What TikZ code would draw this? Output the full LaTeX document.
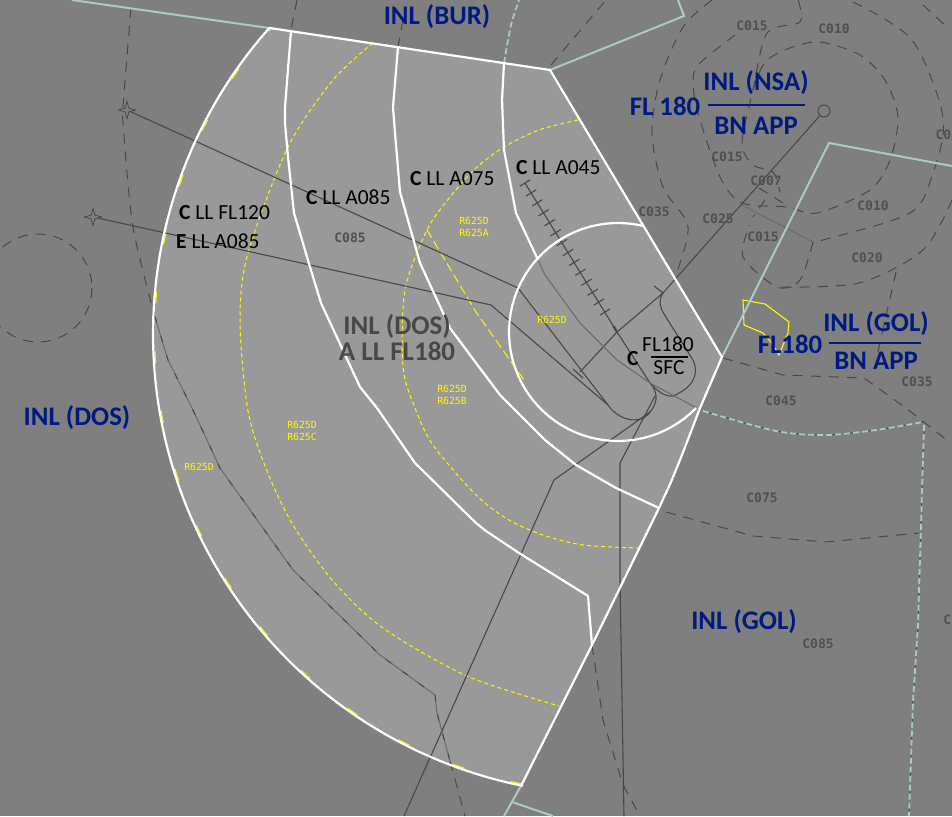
\documentclass[tikz,border=0pt]{standalone}
\usepackage{fontspec}
\setmainfont{Carlito}
\newfontfamily\chartfont{DejaVu Sans Mono}
\usetikzlibrary{calc,shapes.geometric}

\definecolor{chartbg}{HTML}{7F7F7F}
\definecolor{fanfill}{HTML}{999999}
\definecolor{sectorblue}{HTML}{001A80}
\definecolor{seamgray}{HTML}{484848}
\definecolor{seamdim}{HTML}{6C6C6C}
\definecolor{bordertint}{HTML}{ADC8C8}
\definecolor{chartyellow}{HTML}{FFFA00}

\tikzset{
  whiteline/.style={white,line width=2.2pt,line join=round},
  borderline/.style={bordertint,line width=2pt},
  borderdash/.style={bordertint,line width=1.8pt,dash pattern=on 6pt off 3pt},
  contour/.style={seamgray,line width=1pt,dash pattern=on 10pt off 8pt},
  routeline/.style={seamgray,line width=1.1pt,line join=round},
  dimline/.style={seamdim,line width=1.1pt,line join=round},
  yellowdash/.style={chartyellow,line width=1pt,dash pattern=on 4pt off 3pt},
  fixmark/.style={star,star points=4,star point ratio=3.2,minimum size=17pt,inner sep=0pt,draw=seamgray,line width=0.8pt},
  arealabel/.style={text=sectorblue,font=\fontsize{26.8}{26.8}\selectfont\bfseries,inner sep=0pt},
  sectorlabel/.style={text=black,font=\fontsize{21.5}{21.5}\selectfont,inner sep=0pt,anchor=west},
  classlabel/.style={text=seamgray,font=\fontsize{27}{26}\selectfont\bfseries,inner sep=0pt},
  chartlabel/.style={text=seamgray!85!chartbg,font=\chartfont\bfseries\fontsize{13}{13}\selectfont,inner sep=0pt},
  zonelabel/.style={text=chartyellow,font=\chartfont\fontsize{9.8}{12}\selectfont,inner sep=0pt,align=center},
}

\begin{document}
\begin{tikzpicture}[x=1pt,y=-1pt]
    \useasboundingbox (0,0) rectangle (952,816);
    \clip (0,0) rectangle (952,816);
    \fill[chartbg] (0,0) rectangle (952,816);

    % Fan of the sector
    \fill[fanfill] (269,28) -- (550,70) -- (722,357) -- (700,408) -- (682,455) -- (671,482) -- (659,508) -- (592,645) -- (522,784)
      -- plot[domain=101.5:221.6,samples=80] ({614+461*cos(\x)},{334+461*sin(\x)}) -- cycle;

    % Zone boundaries
    \draw[yellowdash,dash pattern=on 12pt off 48pt] plot[domain=101.5:221.6,samples=80] ({614+459.3*cos(\x)},{334+459.3*sin(\x)});
    \draw[yellowdash] plot[smooth] coordinates {(373,43) (333,80) (288,147) (248,253) (240,320) (248,411) (267,471) (293,525) (333,581) (383,628) (467,676) (559,706)};
    \draw[yellowdash] plot[smooth] coordinates {(578,120) (539,130) (504,147) (476,168) (450,197) (427,230) (405,290) (403,367) (415,408) (433,445) (476,495) (509,520) (543,535) (583,545) (639,548)};
    \draw[yellowdash,dash pattern=on 9pt off 4pt] (427,230) -- (476,312) -- (524,380);
    \draw[chartyellow,line width=1.1pt] (743,300) -- (765,304) -- (789,322) -- (788,333) -- (779,355) -- (771,342) -- (763,333) -- (744,325) -- cycle;

    % Contours outside the fan
    \draw[contour] (38,288) circle (54);
    \draw[contour] plot[smooth] coordinates {(131,8) (123,107) (123,123) (133,227) (155,317)};
    \draw[contour] (297,0) -- (291,30);
    \draw[contour] (403,20) -- (398,47);
    \draw[contour] (450,761) -- (465,816);
    \draw[contour] (592,645) -- (603,720) -- (623,785) -- (640,816);
    \draw[contour] (551,65) -- (606,0);
    \draw[contour] (723,358) -- (783,375) -- (864,378) -- (906,408) -- (948,441);
    \draw[contour] (666,512) -- (753,536) -- (826,542) -- (919,533);
    \draw[contour] plot[smooth] coordinates {(712,0) (683,27) (660,80) (652,133) (663,187) (688,227) (675,277)};
    \draw[contour] plot[smooth] coordinates {(798,0) (800,22) (767,33) (753,90) (742,143) (753,165) (773,172) (780,192)};
    \draw[contour] plot[smooth] coordinates {(735,35) (700,63) (693,80) (698,113) (720,177) (742,203) (787,207) (817,213) (870,190) (890,160) (898,117) (885,80) (860,55) (820,42) (790,48) (765,62) (753,90)};
    \draw[contour] plot[smooth] coordinates {(853,2) (912,40) (943,117) (933,173) (910,213) (823,240) (813,242)};
    \draw[contour] plot[smooth] coordinates {(813,242) (800,280) (777,287) (743,257) (750,225)};
    \draw[contour] plot[smooth] coordinates {(952,200) (923,250) (859,283) (776,287)};
    \draw[contour] (923,5) -- (947,27);
    \draw[contour] (896,272) -- (876,360);
    \draw[contour] (759,188) -- (783,203);
    \draw[contour] (765,200) -- (753,217);
    \draw[dimline] (742,205) -- (813,242);

    % Neighbouring borders
    \draw[borderline] (72,0) -- (269,28);
    \draw[borderline] (550,70) -- (684,16) -- (678,0);
    \draw[borderline] (722,357) -- (829,143) -- (952,166);
    \draw[borderline] (522,784) -- (504,816);
    \draw[borderline] (512,802) -- (553,816);
    \draw[borderdash] plot[smooth] coordinates {(504,63) (511,25) (519,0)};
    \draw[contour] plot[smooth] coordinates {(703,411) (776,431) (826,435) (876,430) (923,422)};
    \draw[borderdash] plot[smooth] coordinates {(703,411) (776,431) (826,435) (876,430) (923,422)};
    \draw[contour] (924,425) -- (921,525) -- (918,625) -- (913,701) -- (909,816);
    \draw[borderdash] (924,425) -- (921,525) -- (918,625) -- (913,701) -- (909,816);

    % Fixes and routes
    \node[fixmark] (fixa) at (127,110) {};
    \node[fixmark] (fixb) at (93,217) {};
    \node[circle,draw=seamgray,line width=1pt,minimum size=12pt,inner sep=0pt] (navaid) at (824,111) {};
    \coordinate (ilsa) at (525,183);
    \coordinate (ilsb) at (605,312);
    \coordinate (ilsc) at (617,332);
    \coordinate (loopa) at (650,383);
    \draw[routeline] (fixa) -- (518,288) -- (608,405) .. controls (618,420) and (640,426) .. (650,412) .. controls (660,400) and (656,390) .. (loopa);
    \draw[routeline] (fixb) -- (491,305) -- (608,405);
    \draw[routeline] (ilsa) -- (ilsc) -- (loopa);
    \draw[routeline,line width=2.2pt] ($(ilsc)!0.3!(ilsb)$) -- (ilsc);
    \draw[routeline] (580,372) -- (ilsc) -- (663,293) -- (navaid);
    \draw[routeline] (573,369) -- (583,378);
    \draw[routeline] (654,286) -- (663,293);
    \draw[routeline] (663,293) .. controls (658,300) and (660,308) .. (664,314) -- (693,360) .. controls (700,375) and (692,388) .. (673,396) .. controls (665,397) and (657,391) .. (loopa);
    \draw[routeline] (650,412) -- (554,480) -- (404,816);
    \draw[routeline] (655,396) -- (620,463) -- (620,581) -- (624,816);
    \foreach \t in {0,...,13}
      \draw[routeline] ($(ilsa)!\t/13!(ilsb)+(5.1,-3.2)$) -- ($(ilsa)!\t/13!(ilsb)-(5.1,-3.2)$);

    % Seams inside the fan
    \draw[dimline] (155,317) -- (168,360) -- (192,408) -- (220,468) -- (293,570) -- (380,655) -- (435,695) -- (437,713) -- (450,761);
    \draw[contour,dash pattern=on 6pt off 14pt] (155,317) -- (168,360) -- (192,408) -- (220,468) -- (293,570) -- (380,655) -- (435,695) -- (437,713) -- (450,761);
    \draw[dimline] (538,260) -- (545,275) -- (580,323) -- (617,360) -- (loopa) -- (695,407);

    % Fan outline and its inner limits
    \draw[whiteline] (522,784) -- plot[domain=101.5:221.6,samples=80] ({614+461*cos(\x)},{334+461*sin(\x)}) -- (550,70) -- (722,357) -- (700,408) -- (682,455) -- (671,482) -- (659,508) -- (592,645) -- cycle;
    \draw[whiteline] plot[domain=283.4:44.3,samples=60] ({618+109*cos(\x)},{332+109*sin(\x)});
    \draw[whiteline] (291,31) -- (285,107) -- (285,123) -- (288,157) -- (294,213) -- (310,267) -- (321,303) -- (360,387) -- (377,408) -- (415,463) -- (476,523) -- (486,531) -- (519,553) -- (588,596) -- (592,645);
    \draw[whiteline] (398,47) -- (393,107) -- (395,133) -- (400,192) -- (420,263) -- (450,328) -- (476,363) -- (500,395) -- (545,440) -- (576,465) -- (616,488) -- (659,508);
    \draw[whiteline] (504,63) -- (502,100) -- (504,150) -- (516,213) -- (538,260);

    % Area labels
    \node[arealabel] (burlabel) at (437,17) {INL (BUR)};
    \node[arealabel] (doslabel) at (77,418) {INL (DOS)};
    \node[arealabel] (gollabel) at (744,622) {INL (GOL)};
    \node[arealabel] (nsatop) at (756,83) {INL (NSA)};
    \node[arealabel] (nsabot) at (756,126) {BN APP};
    \node[arealabel] (nsaflight) at (665,106) {FL 180};
    \draw[sectorblue,line width=2pt] (708,105) -- (805,105);
    \node[arealabel] (goltop) at (876,324) {INL (GOL)};
    \node[arealabel] (golbot) at (876,361) {BN APP};
    \node[arealabel] (golflight) at (790,344) {FL180};
    \draw[sectorblue,line width=2pt] (829,343) -- (921,343);

    % Sector labels
    \node[classlabel,align=center] (dossector) at (397,338) {INL (DOS)\\A LL FL180};
    \node[sectorlabel] (sectora) at (179,213) {\textbf{C} LL FL120};
    \node[sectorlabel] (sectorb) at (176,241) {\textbf{E} LL A085};
    \node[sectorlabel] (sectorc) at (306,197) {\textbf{C} LL A085};
    \node[sectorlabel] (sectord) at (410,179) {\textbf{C} LL A075};
    \node[sectorlabel] (sectore) at (516,168) {\textbf{C} LL A045};
    \node[sectorlabel] (sectorf) at (627,359) {\textbf{C}};
    \node[sectorlabel,anchor=center] (ctrtop) at (668,344) {FL180};
    \node[sectorlabel,anchor=center] (ctrbot) at (669,368) {SFC};
    \draw[black,line width=1.6pt] (651,357) -- (688,357);

    % Chart levels
    \node[chartlabel] (levela) at (350,238) {C085};
    \node[chartlabel] (levelb) at (752,26) {C015};
    \node[chartlabel] (levelc) at (834,29) {C010};
    \node[chartlabel] (leveld) at (727,157) {C015};
    \node[chartlabel] (levele) at (766,181) {C007};
    \node[chartlabel] (levelf) at (873,206) {C010};
    \node[chartlabel] (levelg) at (763,237) {C015};
    \node[chartlabel] (levelh) at (867,258) {C020};
    \node[chartlabel] (leveli) at (718,219) {C025};
    \node[chartlabel] (levelj) at (654,212) {C035};
    \node[chartlabel] (levelk) at (917,382) {C035};
    \node[chartlabel] (levell) at (781,401) {C045};
    \node[chartlabel] (levelm) at (762,498) {C075};
    \node[chartlabel] (leveln) at (818,644) {C085};
    \node[chartlabel,anchor=east] (levelo) at (951.5,135) {C0};
    \node[chartlabel,anchor=east] (levelp) at (951.5,620) {C};

    % Restricted zones
    \node[zonelabel] (zonea) at (474,227) {R625D\\R625A};
    \node[zonelabel] (zoneb) at (552,320) {R625D};
    \node[zonelabel] (zonec) at (452,395) {R625D\\R625B};
    \node[zonelabel] (zoned) at (302,431) {R625D\\R625C};
    \node[zonelabel] (zonee) at (199,467) {R625D};
\end{tikzpicture}
\end{document}
